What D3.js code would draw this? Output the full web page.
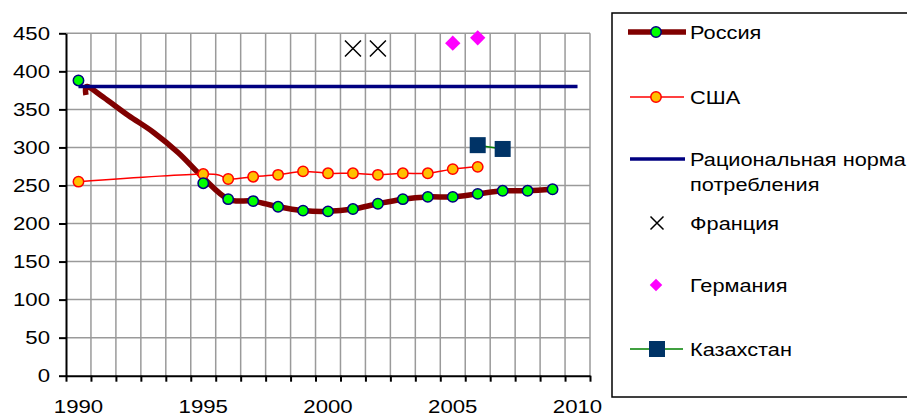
<!DOCTYPE html>
<html><head><meta charset="utf-8">
<script src="https://cdn.jsdelivr.net/npm/d3@7"></script>
<style>
body{margin:0;background:#fff}
svg{display:block}
text{font-family:"Liberation Sans",Arial,sans-serif;fill:#000}
</style>
</head><body>
<svg id="c" width="907" height="419"></svg>
<script>
// ---- data ----
const categoryYears = [1990,1991,1992,1993,1994,1995,1996,1997,1998,1999,2000,2001,2002,2003,2004,2005,2006,2007,2008,2009,2010];
const xTickLabels = [1990,1995,2000,2005,2010];
const yTicks = [0,50,100,150,200,250,300,350,400,450];

const russiaYears  = [1990,1995,1996,1997,1998,1999,2000,2001,2002,2003,2004,2005,2006,2007,2008,2009];
const russiaValues = [388, 253, 232, 229.5,222, 217, 216, 219, 226, 232, 235, 235, 239, 243, 243, 245];
const russiaLineYears  = [1990.3,1990.35,1991,1992,1993,1994,1995,1996,1997,1998,1999,2000,2001,2002,2003,2004,2005,2006,2007,2008,2009];
const russiaLineValues = [369,   380,    366, 342, 320, 293, 260, 232, 229.5,222, 217, 216, 219, 226, 232, 235, 235, 239, 243, 243, 245];

const usaYears  = [1990,1995,1996,1997,1998,1999,2000,2001,2002,2003,2004,2005,2006];
const usaValues = [255, 265, 258.5,261.5,264, 268.5,266, 266, 264, 266, 266, 271.5,274.5];

const normYears  = [1990,1991,1992,1993,1994,1995,1996,1997,1998,1999,2000,2001,2002,2003,2004,2005,2006,2007,2008,2009,2010];
const normValues = [380,380,380,380,380,380,380,380,380,380,380,380,380,380,380,380,380,380,380,380,380];

const franceYears  = [2001,2002];
const franceValues = [430, 430];
const germanyYears  = [2005,2006];
const germanyValues = [437, 444];
const kazakhYears  = [2006,2007];
const kazakhValues = [303, 298];

const legendLabels = ["Россия","США",["Рациональная норма","потребления"],"Франция","Германия","Казахстан"];

// ---- layout ----
const svg = d3.select('#c');
const L = 66, R = 590, T = 33.3, B = 375.7;
const FS = 18.5, SX = 1.2, MR = 5.2;
const x = d3.scaleLinear()
  .domain([categoryYears[0]-0.5, categoryYears[categoryYears.length-1]+0.5])
  .range([L, R]);
const y = d3.scaleLinear().domain([0,450]).range([B, T]);
const boundaries = categoryYears.map(d=>d-0.5).concat([categoryYears[categoryYears.length-1]+0.5]);

// gridlines
const grid = svg.append('g').attr('stroke','#9a9a9a').attr('stroke-width',1.5);
grid.selectAll('line.h').data(yTicks.slice(1)).join('line')
  .attr('x1',L).attr('x2',R).attr('y1',d=>y(d)).attr('y2',d=>y(d));
grid.selectAll('line.v').data(boundaries.slice(1)).join('line')
  .attr('x1',d=>x(d)).attr('x2',d=>x(d)).attr('y1',y(0)).attr('y2',y(450));

// axes
const ax = svg.append('g').attr('transform',`translate(${L},0)`)
  .call(d3.axisLeft(y).tickValues(yTicks).tickSize(7).tickSizeOuter(0).tickFormat(''));
const bx = svg.append('g').attr('transform',`translate(0,${B})`)
  .call(d3.axisBottom(x).tickValues(boundaries).tickSize(6).tickSizeOuter(0).tickFormat(''));
[ax,bx].forEach(g=>{
  g.select('.domain').attr('stroke','#000').attr('stroke-width',2);
  g.selectAll('.tick line').attr('stroke','#000').attr('stroke-width',2);
});
// y labels
svg.append('g').selectAll('text').data(yTicks).join('text')
  .attr('transform',d=>`translate(${L-16},${y(d)}) scale(${SX},1)`)
  .attr('text-anchor','end').attr('dy','0.36em').attr('font-size',FS).text(d=>d);
// x labels
svg.append('g').selectAll('text').data(xTickLabels).join('text')
  .attr('transform',d=>`translate(${x(d)},413) scale(${SX},1)`)
  .attr('text-anchor','middle').attr('font-size',FS).text(d=>d);

// ---- series ----
const smooth = d3.line().x(d=>x(d[0])).y(d=>y(d[1])).curve(d3.curveCardinal.tension(0));
const straight = d3.line().x(d=>x(d[0])).y(d=>y(d[1]));
const zip = (a,b)=>a.map((d,i)=>[d,b[i]]);

// Russia line
svg.append('path').datum(zip(russiaLineYears,russiaLineValues))
  .attr('d',smooth).attr('fill','none').attr('stroke','#800000').attr('stroke-width',5.5)
  .attr('stroke-linejoin','round');
// Norm
svg.append('path').datum(zip(normYears,normValues))
  .attr('d',straight).attr('fill','none').attr('stroke','#000080').attr('stroke-width',3.5);
// USA
svg.append('path').datum(zip(usaYears,usaValues))
  .attr('d',smooth).attr('fill','none').attr('stroke','#ff0000').attr('stroke-width',1.5);
svg.append('g').selectAll('circle').data(zip(usaYears,usaValues)).join('circle')
  .attr('cx',d=>x(d[0])).attr('cy',d=>y(d[1])).attr('r',MR)
  .attr('fill','#ffc000').attr('stroke','#ff0000').attr('stroke-width',1.5);
// Russia markers
svg.append('g').selectAll('circle').data(zip(russiaYears,russiaValues)).join('circle')
  .attr('cx',d=>x(d[0])).attr('cy',d=>y(d[1])).attr('r',MR)
  .attr('fill','#00ff00').attr('stroke','#000080').attr('stroke-width',1.5);
// Kazakhstan
svg.append('path').datum(zip(kazakhYears,kazakhValues))
  .attr('d',straight).attr('fill','none').attr('stroke','#008000').attr('stroke-width',1.5);
svg.append('g').selectAll('rect').data(zip(kazakhYears,kazakhValues)).join('rect')
  .attr('x',d=>x(d[0])-8).attr('y',d=>y(d[1])-8).attr('width',16).attr('height',16)
  .attr('fill','#003366');
// France
const xMark = (g,cx,cy,s)=>g.append('path')
  .attr('d',`M${cx-s},${cy-s}L${cx+s},${cy+s}M${cx-s},${cy+s}L${cx+s},${cy-s}`)
  .attr('stroke','#000').attr('stroke-width',1.5).attr('fill','none');
const fr = svg.append('g');
zip(franceYears,franceValues).forEach(d=>xMark(fr,x(d[0]),y(d[1]),8));
// Germany
svg.append('g').selectAll('path').data(zip(germanyYears,germanyValues)).join('path')
  .attr('d',d3.symbol().type(d3.symbolDiamond2).size(150))
  .attr('transform',d=>`translate(${x(d[0])},${y(d[1])})`)
  .attr('fill','#ff00ff');

// ---- legend ----
const lg = svg.append('g');
lg.append('rect').attr('x',612).attr('y',13).attr('width',320).attr('height',384)
  .attr('fill','#fff').attr('stroke','#000').attr('stroke-width',1.5);
const ly = [32, 97, 159, 223, 285, 349];
const tx = 690, mx = 657;
// Россия
lg.append('line').attr('x1',628).attr('x2',686).attr('y1',ly[0]).attr('y2',ly[0])
  .attr('stroke','#800000').attr('stroke-width',5.5);
lg.append('circle').attr('cx',mx-1).attr('cy',ly[0]).attr('r',MR)
  .attr('fill','#00ff00').attr('stroke','#000080').attr('stroke-width',1.5);
// США
lg.append('line').attr('x1',630).attr('x2',684).attr('y1',ly[1]).attr('y2',ly[1])
  .attr('stroke','#ff0000').attr('stroke-width',1.5);
lg.append('circle').attr('cx',mx-1).attr('cy',ly[1]).attr('r',MR)
  .attr('fill','#ffc000').attr('stroke','#ff0000').attr('stroke-width',1.5);
// Норма
lg.append('line').attr('x1',630).attr('x2',685).attr('y1',ly[2]).attr('y2',ly[2])
  .attr('stroke','#000080').attr('stroke-width',3.5);
// Франция
xMark(lg,mx,ly[3],6.5);
// Германия
lg.append('path').attr('d',d3.symbol().type(d3.symbolDiamond2).size(100))
  .attr('transform',`translate(${mx-1},${ly[4]})`).attr('fill','#ff00ff');
// Казахстан
lg.append('line').attr('x1',630).attr('x2',683).attr('y1',ly[5]).attr('y2',ly[5])
  .attr('stroke','#008000').attr('stroke-width',1.5);
lg.append('rect').attr('x',mx-8).attr('y',ly[5]-8).attr('width',16).attr('height',16)
  .attr('fill','#003366');

legendLabels.forEach((lab,i)=>{
  const lines = Array.isArray(lab)?lab:[lab];
  lines.forEach((t,j)=>{
    lg.append('text')
      .attr('transform',`translate(${tx},${ly[i]+7+j*25}) scale(${SX*0.98},1)`)
      .attr('font-size',FS).text(t);
  });
});
</script>
</body></html>
